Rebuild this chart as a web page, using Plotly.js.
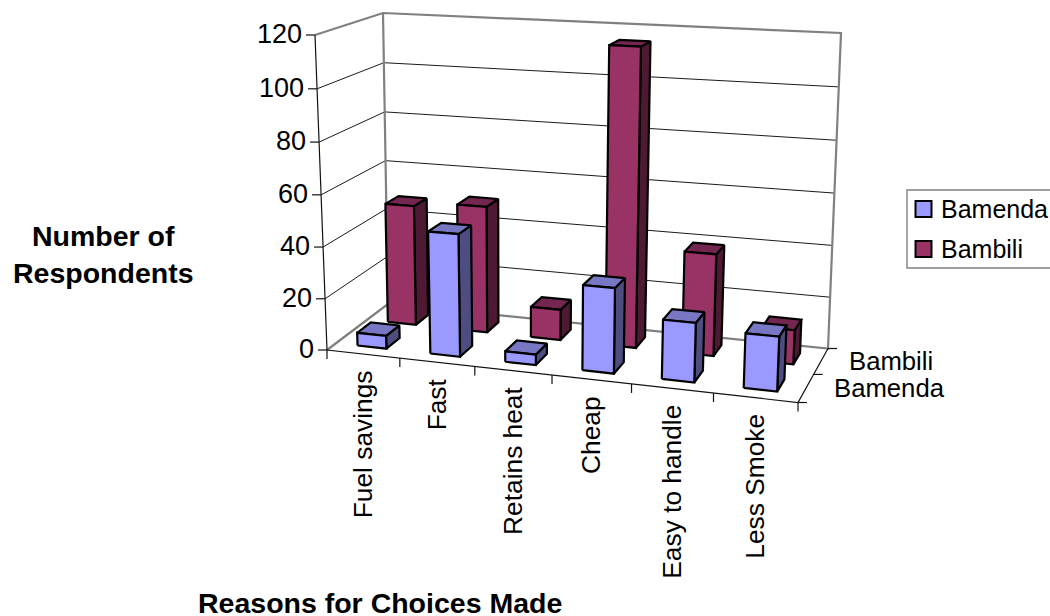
<!DOCTYPE html>
<html>
<head>
<meta charset="utf-8">
<script src="https://cdn.plot.ly/plotly-3.0.1.min.js"></script>
<style>html,body{margin:0;padding:0;background:#fff;overflow:hidden}</style>
</head>
<body>
<div id="chart" style="width:1050px;height:616px"></div>
<script>
// Survey results: reasons for choosing a stove, by town
const categories = ["Fuel savings", "Fast", "Retains heat", "Cheap", "Easy to handle", "Less Smoke"];
const seriesNames = ["Bamenda", "Bambili"];
const bamenda = [5, 47, 4, 32, 22, 20];
const bambili = [48, 50, 12, 115, 39, 13];
const valueTicks = [0, 20, 40, 60, 80, 100, 120];

const FONT = "Liberation Sans, Arial, sans-serif";
const TEXT_SIZE = 25;
const VALUE_TICK_SIZE = 27;
const CATEGORY_SIZE = 26.3;
const SERIES_SIZE = 25.7;
const TITLE_SIZE = 28.5;
const VALUE_MAX = 120;

// Perspective box of the 3-D column chart: floor and ceiling quads,
// listed as front-left, front-right, back-right, back-left.
const floorQuad = [[327, 350], [798, 402.5], [828, 348.5], [388, 304]];
const ceilQuad = [[315, 35], [812, 59], [841, 33], [383, 13]];
const HEIGHT_FORESHORTEN = 1.03;

function quadMap(q) {
  const [p0, p1, p2, p3] = q;
  const dx1 = p1[0] - p2[0], dx2 = p3[0] - p2[0], sx = p0[0] - p1[0] + p2[0] - p3[0];
  const dy1 = p1[1] - p2[1], dy2 = p3[1] - p2[1], sy = p0[1] - p1[1] + p2[1] - p3[1];
  const den = dx1 * dy2 - dx2 * dy1;
  const g = (sx * dy2 - dx2 * sy) / den;
  const h = (dx1 * sy - sx * dy1) / den;
  const a = p1[0] - p0[0] + g * p1[0], b = p3[0] - p0[0] + h * p3[0], c = p0[0];
  const d = p1[1] - p0[1] + g * p1[1], e = p3[1] - p0[1] + h * p3[1], f = p0[1];
  return (u, v) => {
    const w = g * u + h * v + 1;
    return [(a * u + b * v + c) / w, (d * u + e * v + f) / w];
  };
}
const floorAt = quadMap(floorQuad);
const ceilAt = quadMap(ceilQuad);

// u: across the categories, v: depth across the series, value: height
function project(u, v, value) {
  const lo = floorAt(u, v), hi = ceilAt(u, v), r = value / VALUE_MAX;
  const t = r / (r + HEIGHT_FORESHORTEN * (1 - r));
  return [lo[0] + (hi[0] - lo[0]) * t, lo[1] + (hi[1] - lo[1]) * t];
}

const traces = [];
function path(points, line, fill) {
  const pts = points.map(p => project(p[0], p[1], p[2]));
  const t = {
    x: pts.map(p => p[0]), y: pts.map(p => p[1]),
    mode: "lines", type: "scatter", hoverinfo: "skip", showlegend: false,
    line: line
  };
  if (fill) { t.fill = "toself"; t.fillcolor = fill; }
  traces.push(t);
}

const WALL = {color: "#808080", width: 2.2};
const GRID = {color: "#1a1a1a", width: 1};
const AXIS = {color: "#111111", width: 1.2};

// Gridlines on the side and back walls
valueTicks.slice(1, -1).forEach(val => {
  path([[0, 0, val], [0, 1, val], [1, 1, val]], GRID);
});
// Wall and floor frame
path([[0, 0, VALUE_MAX], [0, 1, VALUE_MAX], [1, 1, VALUE_MAX], [1, 1, 0], [0, 1, 0], [0, 0, 0]], WALL);
path([[0, 1, 0], [0, 1, VALUE_MAX]], WALL);
// Axis lines and tick marks
path([[0, 0, VALUE_MAX], [0, 0, 0], [1, 0, 0], [1, 1, 0]], AXIS);

const annotations = [];
function label(pos, text, opts, size) {
  annotations.push(Object.assign({
    x: pos[0], y: pos[1], xref: "x", yref: "y", text: text, showarrow: false,
    font: {family: FONT, size: size || TEXT_SIZE, color: "#000"}, borderpad: 0
  }, opts));
}

function tick(from, dx, dy) {
  traces.push({
    x: [from[0], from[0] + dx], y: [from[1], from[1] + dy],
    mode: "lines", type: "scatter", hoverinfo: "skip", showlegend: false, line: AXIS
  });
}

valueTicks.forEach(val => {
  const p = project(0, 0, val);
  tick(p, -9, 0);
  label(p, String(val), {xanchor: "right", yanchor: "middle", xshift: -12, yshift: 1}, VALUE_TICK_SIZE);
});
categories.forEach((name, i) => {
  tick(project(i / 6, 0, 0), 0, 9);
  const p = project((i + 0.5) / 6, 0, 0);
  label(p, name, {textangle: -90, xanchor: "center", yanchor: "top", yshift: -15, xshift: 0}, CATEGORY_SIZE);
});
tick(project(1, 0, 0), 0, 9);
[0, 0.5, 1].forEach(v => tick(project(1, v, 0), 9, 0));
label(project(1, 0.75, 0), seriesNames[1], {xanchor: "left", yanchor: "middle", xshift: 27, yshift: 0}, SERIES_SIZE);
label(project(1, 0.25, 0), seriesNames[0], {xanchor: "left", yanchor: "middle", xshift: 27, yshift: 0}, SERIES_SIZE);

// Columns, drawn from the back row forward and left to right
const GAP_U = 0.3, BAR_U = 0.4;
const GAP_V = 0.28, BAR_V = 0.44;
const EDGE = {color: "#000", width: 2.2};
const palettes = [
  {front: "#9999ff", side: "#4d4d80", top: "#7777c4"},
  {front: "#993366", side: "#4d1933", top: "#732650"}
];
[bambili, bamenda].forEach((values, k) => {
  const row = 1 - k;
  const colors = palettes[row];
  values.forEach((val, i) => {
    const u0 = (i + GAP_U) / 6, u1 = (i + GAP_U + BAR_U) / 6;
    const v0 = (row + GAP_V) / 2, v1 = (row + GAP_V + BAR_V) / 2;
    path([[u1, v0, 0], [u1, v1, 0], [u1, v1, val], [u1, v0, val], [u1, v0, 0]], EDGE, colors.side);
    path([[u0, v0, val], [u1, v0, val], [u1, v1, val], [u0, v1, val], [u0, v0, val]], EDGE, colors.top);
    path([[u0, v0, 0], [u1, v0, 0], [u1, v0, val], [u0, v0, val], [u0, v0, 0]], EDGE, colors.front);
  });
});

// Legend box with one swatch and name per series
const legendBox = {left: 907, top: 190, right: 1062, bottom: 268};
const swatchRows = [209, 249];
const shapes = [{
  type: "rect", xref: "x", yref: "y",
  x0: legendBox.left, x1: legendBox.right, y0: legendBox.top, y1: legendBox.bottom,
  line: {color: "#808080", width: 1.4}, fillcolor: "#fff"
}];
seriesNames.forEach((name, i) => {
  shapes.push({
    type: "rect", xref: "x", yref: "y",
    x0: legendBox.left + 8.5, x1: legendBox.left + 24.5,
    y0: swatchRows[i] - 8, y1: swatchRows[i] + 8,
    line: {color: "#000", width: 2}, fillcolor: palettes[i].front
  });
  label([legendBox.left + 33, swatchRows[i]], name, {xanchor: "left", yanchor: "middle", yshift: 0});
});

// Chart titles
label([103.5, 254.5], "<b>Number of<br>Respondents</b>", {align: "center", xanchor: "center", yanchor: "middle"}, TITLE_SIZE);
label([380, 603], "<b>Reasons for Choices Made</b>", {xanchor: "center", yanchor: "middle"}, TITLE_SIZE);

const layout = {
  width: 1050, height: 616,
  margin: {l: 0, r: 0, t: 0, b: 0, autoexpand: false},
  paper_bgcolor: "#fff", plot_bgcolor: "#fff",
  xaxis: {range: [0, 1050], visible: false, fixedrange: true},
  yaxis: {range: [616, 0], visible: false, fixedrange: true},
  annotations: annotations,
  shapes: shapes,
  showlegend: false
};
Plotly.newPlot("chart", traces, layout, {displayModeBar: false, staticPlot: true});
</script>
</body>
</html>
